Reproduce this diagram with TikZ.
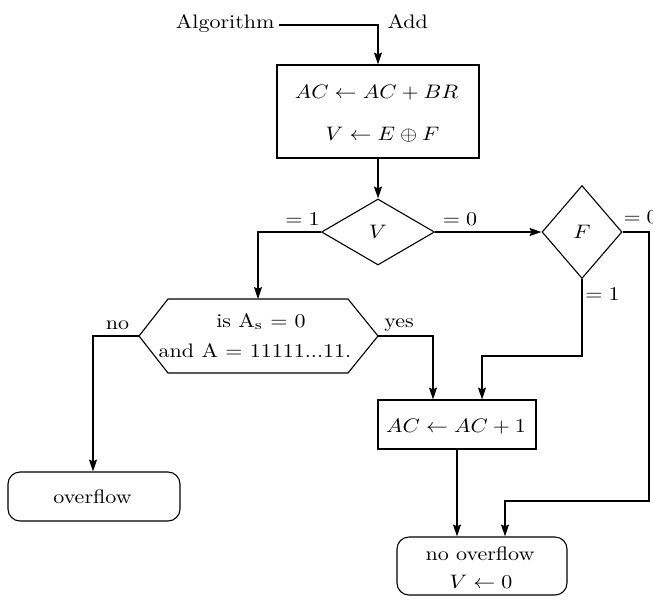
\documentclass[tikz,border=0pt]{standalone}
\usepackage{graphicx}
\usetikzlibrary{shapes.geometric,arrows.meta}
\newcommand{\tx}[1]{\scalebox{2.2}[1.95]{#1}}
\begin{document}
\begin{tikzpicture}[x=1pt,y=-1pt,
  line width=1.1pt,
  arr/.style={-{Stealth[length=12pt,width=8pt,inset=2pt]}},
  lbl/.style={inner sep=0pt},
  procbox/.style={draw, rectangle, inner sep=0pt},
  termbox/.style={draw, rectangle, rounded corners=12pt, inner sep=0pt},
  decide/.style={draw, diamond, inner sep=0pt}]
\useasboundingbox (0,0) rectangle (653,603);

% top labels
\node[lbl, anchor=base east] (alg) at (275,28) {\tx{Algorithm}};
\node[lbl, anchor=base west] (add) at (387,28) {\tx{Add}};
\coordinate (a0) at (279,25);

% first box
\node[procbox, minimum width=202pt, minimum height=93pt] (b1) at (378,111.5) {};
\node[lbl, anchor=base] (b1t1) at (376.5,98) {\tx{$AC \leftarrow AC + BR$}};
\node[lbl, anchor=base] (b1t2) at (382.5,140) {\tx{$V \leftarrow E \oplus F$}};

% decisions
\node[decide, minimum width=113pt, minimum height=66pt] (V) at (378,232) {\tx{$V$}};
\node[decide, minimum width=80pt, minimum height=93pt] (F) at (582,232) {\tx{$F$}};
\node[lbl, anchor=base] (v1) at (302.5,225) {\tx{$=1$}};
\node[lbl, anchor=base] (v0) at (460,225) {\tx{$=0$}};
\node[lbl, anchor=base west] (f0) at (623,223) {\tx{$=0$}};
\node[lbl, anchor=base] (f1) at (602.5,300) {\tx{$=1$}};

% hexagon
\draw (168,299) -- (348,299) -- (378,336) -- (348,373) -- (168,373) -- (139,336) -- cycle;
\coordinate (hexT) at (258,299);
\coordinate (hexL) at (139,336);
\coordinate (hexR) at (378,336);
\node[lbl, anchor=base] (h1) at (261,327) {\tx{is A\textsubscript{s} = 0}};
\node[lbl, anchor=base] (h2) at (255,357) {\tx{and A = 11111...11.}};
\node[lbl, anchor=base] (yes) at (399,327) {\tx{yes}};
\node[lbl, anchor=base] (no) at (117.5,329) {\tx{no}};

% lower boxes
\node[procbox, minimum width=158pt, minimum height=49pt] (a1) at (457,424.5) {};
\node[lbl, anchor=base] (a1t) at (456,432) {\tx{$AC \leftarrow AC + 1$}};
\node[termbox, minimum width=172pt, minimum height=49pt] (ov) at (94,496.5) {};
\node[lbl, anchor=base] (ovt) at (92.5,503) {\tx{overflow}};
\node[termbox, minimum width=170pt, minimum height=58pt] (nov) at (482,566) {};
\node[lbl, anchor=base] (novt1) at (480,560) {\tx{no overflow}};
\node[lbl, anchor=base] (novt2) at (481,588) {\tx{$V \leftarrow 0$}};

% junction coordinates
\coordinate (fj) at (482,356);
\coordinate (yj) at (433,336);
\coordinate (nj) at (93,336);
\coordinate (fr) at (649,232);
\coordinate (fk) at (505,501);

% connectors
\draw[arr] (a0) -- (a0 -| b1.north) -- (b1.north);
\draw[arr] (b1.south) -- (V.north);
\draw[arr] (V.west) -| (hexT);
\draw[arr] (V.east) -- (F.west);
\draw[arr] (F.south) |- (fj) -- (fj |- a1.north);
\draw[arr] (hexR) -- (yj) -- (yj |- a1.north);
\draw[arr] (hexL) -- (nj) -- (nj |- ov.north);
\draw[arr] (a1.south) -- (a1.south |- nov.north);
\draw[arr] (F.east) -- (fr) -- (fr |- fk) -- (fk) -- (fk |- nov.north);
\end{tikzpicture}
\end{document}
